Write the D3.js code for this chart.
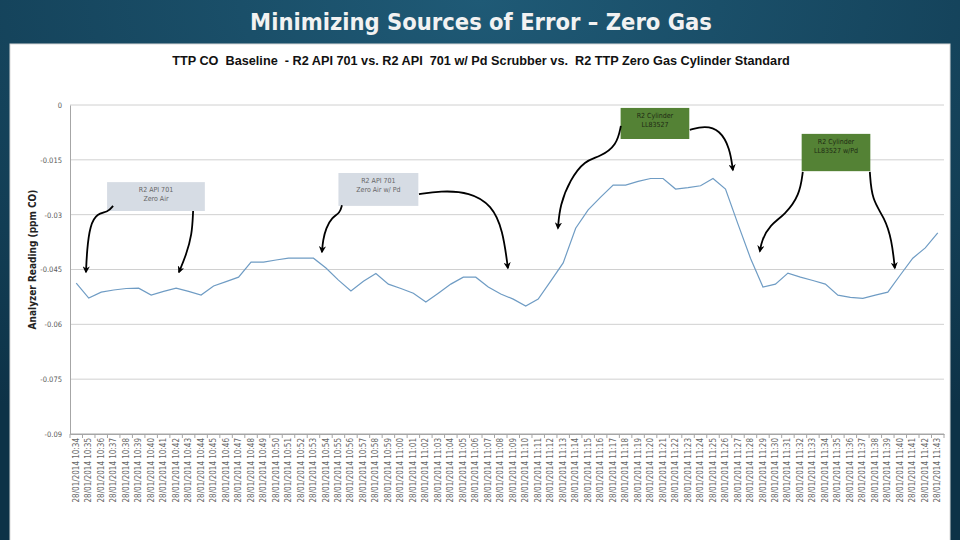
<!DOCTYPE html>
<html>
<head>
<meta charset="utf-8">
<script src="https://cdn.jsdelivr.net/npm/d3@7"></script>
<style>
  html, body { margin: 0; padding: 0; background: #154660; }
  svg text { font-family: "Liberation Sans Narrow", "DejaVu Sans Condensed", "Liberation Sans", sans-serif; }
</style>
</head>
<body>
<div id="chart"></div>
<script>
const times = [];
for (let m = 34; m <= 103; m++) {
    const h = m < 60 ? 10 : 11;
    const mm = m < 60 ? m : m - 60;
    times.push("28/01/2014 " + h + ":" + String(mm).padStart(2, "0"));
}
const readings = [
    -0.0487, -0.0528, -0.0512, -0.0506, -0.0502, -0.0501, -0.0520, -0.0510, -0.0501, -0.0510,
    -0.0520, -0.0495, -0.0483, -0.0471, -0.0430, -0.0430, -0.0424, -0.0419, -0.0419, -0.0419,
    -0.0446, -0.0479, -0.0509, -0.0482, -0.0461, -0.0490, -0.0502, -0.0515, -0.0539, -0.0515,
    -0.0490, -0.0471, -0.0471, -0.0498, -0.0517, -0.0531, -0.0550, -0.0531, -0.0482, -0.0432,
    -0.0337, -0.0287, -0.0252, -0.0219, -0.0219, -0.0209, -0.0201, -0.0201, -0.0230, -0.0226,
    -0.0221, -0.0201, -0.0230, -0.0326, -0.0419, -0.0498, -0.0490, -0.0460, -0.0471, -0.0480,
    -0.0490, -0.0520, -0.0526, -0.0529, -0.0520, -0.0512, -0.0465, -0.0419, -0.0391, -0.0350
];
const yTicks = [0, -0.015, -0.03, -0.045, -0.06, -0.075, -0.09];
const yTickLabels = ["0", "-0.015", "-0.03", "-0.045", "-0.06", "-0.075", "-0.09"];

// callout boxes in (category index, reading) units
const callouts = [
    { i0: 2.47, i1: 10.3, v0: -0.0211, v1: -0.0290, lines: ["R2 API 701", "Zero Air"], fill: "#d6dce4", ink: "#666" },
    { i0: 21.0, i1: 27.4, v0: -0.0186, v1: -0.0276, lines: ["R2 API 701", "Zero Air w/ Pd"], fill: "#d6dce4", ink: "#666" },
    { i0: 43.6, i1: 49.1, v0: -0.0008, v1: -0.0093, lines: ["R2 Cylinder", "LL83527"], fill: "#548235", ink: "#1e2a14" },
    { i0: 58.1, i1: 63.6, v0: -0.0079, v1: -0.0181, lines: ["R2 Cylinder", "LL83527 w/Pd"], fill: "#548235", ink: "#1e2a14" }
];
const arrows = [
    [[2.95, -0.0276], [2.55, -0.0293], [1.67, -0.0296], [1.10, -0.0329], [0.86, -0.0397], [0.78, -0.0457]],
    [[9.36, -0.0290], [9.27, -0.0356], [8.79, -0.0411], [8.23, -0.0457]],
    [[21.28, -0.0274], [21.12, -0.0296], [20.48, -0.0307], [20.0, -0.0337], [19.76, -0.0370], [19.68, -0.0402]],
    [[27.45, -0.0244], [29.13, -0.0235], [31.53, -0.0238], [33.29, -0.0274], [34.17, -0.0342], [34.57, -0.0446]],
    [[43.62, -0.0057], [43.3, -0.0110], [41.94, -0.0142], [40.74, -0.0151], [39.54, -0.0205], [38.74, -0.0274], [38.58, -0.0337]],
    [[49.14, -0.0068], [50.34, -0.0057], [51.55, -0.0068], [52.35, -0.0118], [52.59, -0.0178]],
    [[58.19, -0.0183], [57.95, -0.0246], [56.75, -0.0301], [55.55, -0.0328], [54.91, -0.0370], [54.75, -0.0400]],
    [[63.56, -0.0183], [63.72, -0.0260], [64.76, -0.0309], [65.32, -0.0370], [65.56, -0.0446]]
];

const width = 960, height = 540;
const plot = { left: 70, right: 944, top: 105, bottom: 434 };

const svg = d3.select("#chart").append("svg")
    .attr("width", width)
    .attr("height", height);

const defs = svg.append("defs");
const grad = defs.append("radialGradient").attr("id", "bg")
    .attr("cx", "50%").attr("cy", "0%").attr("r", "90%");
grad.append("stop").attr("offset", "0%").attr("stop-color", "#1f5a76");
grad.append("stop").attr("offset", "100%").attr("stop-color", "#0d3247");
defs.append("marker")
    .attr("id", "head")
    .attr("viewBox", "0 -5 10 10")
    .attr("refX", 8)
    .attr("refY", 0)
    .attr("markerWidth", 4)
    .attr("markerHeight", 4)
    .attr("orient", "auto")
    .append("path")
    .attr("d", "M0,-5L10,0L0,5L3,0Z")
    .attr("fill", "#000");

svg.append("rect").attr("width", width).attr("height", height).attr("fill", "url(#bg)");

svg.append("text")
    .attr("x", 481).attr("y", 30)
    .attr("text-anchor", "middle")
    .attr("fill", "#f2f2f2")
    .style("font-size", "23.5px")
    .style("font-weight", "bold")
    .text("Minimizing Sources of Error – Zero Gas");

svg.append("rect")
    .attr("x", 10).attr("y", 44)
    .attr("width", 940).attr("height", 500)
    .attr("fill", "#fff")
    .attr("stroke", "#d9d9d9");

svg.append("text")
    .attr("x", 481).attr("y", 65)
    .attr("text-anchor", "middle")
    .attr("fill", "#111")
    .style("font-size", "12.7px")
    .style("font-weight", "bold")
    .style("font-family", "'Liberation Sans', sans-serif")
    .style("white-space", "pre")
    .text("TTP CO  Baseline  - R2 API 701 vs. R2 API  701 w/ Pd Scrubber vs.  R2 TTP Zero Gas Cylinder Standard");

const x = d3.scaleBand()
    .domain(d3.range(times.length))
    .range([plot.left, plot.right])
    .padding(0);
const xc = i => plot.left + (i + 0.5) * x.step();
const y = d3.scaleLinear()
    .domain([-0.09, 0])
    .range([plot.bottom, plot.top]);

// gridlines
svg.append("g")
    .selectAll("line")
    .data(yTicks)
    .join("line")
    .attr("x1", plot.left).attr("x2", plot.right)
    .attr("y1", d => y(d)).attr("y2", d => y(d))
    .attr("stroke", d => d === -0.09 ? "#a6a6a6" : "#d0d0d0")
    .attr("stroke-width", 1);

// y axis
const yAxis = svg.append("g")
    .attr("transform", `translate(${plot.left},0)`)
    .call(d3.axisLeft(y).tickValues(yTicks).tickSize(0).tickPadding(8)
        .tickFormat((d, i) => yTickLabels[i]));
yAxis.select(".domain").attr("stroke", "#a6a6a6");
yAxis.selectAll("text").attr("fill", "#595959").style("font-size", "7.5px");

svg.append("text")
    .attr("transform", `translate(36,${(plot.top + plot.bottom) / 2 - 10}) rotate(-90)`)
    .attr("text-anchor", "middle")
    .attr("fill", "#222")
    .style("font-size", "10px")
    .style("font-weight", "bold")
    .text("Analyzer Reading (ppm CO)");

// x axis
const xAxis = svg.append("g")
    .attr("transform", `translate(0,${plot.bottom})`)
    .call(d3.axisBottom(x).tickSize(0).tickPadding(4).tickFormat(i => times[i]));
xAxis.select(".domain").attr("stroke", "#a6a6a6");
xAxis.selectAll("text")
    .attr("transform", "rotate(-90)")
    .attr("text-anchor", "end")
    .attr("dx", "-4")
    .attr("dy", "0.32em")
    .attr("y", 0)
    .attr("fill", "#666")
    .style("font-size", "8px");
svg.append("g")
    .selectAll("line")
    .data(d3.range(times.length + 1))
    .join("line")
    .attr("x1", i => plot.left + i * x.step())
    .attr("x2", i => plot.left + i * x.step())
    .attr("y1", plot.bottom).attr("y2", plot.bottom + 4)
    .attr("stroke", "#a6a6a6");

// series
svg.append("path")
    .datum(readings)
    .attr("fill", "none")
    .attr("stroke", "#6f9cc4")
    .attr("stroke-width", 1.2)
    .attr("d", d3.line().x((d, i) => xc(i)).y(d => y(d)));

// callouts
const boxes = svg.append("g").selectAll("g")
    .data(callouts)
    .join("g");
boxes.append("rect")
    .attr("x", d => xc(d.i0))
    .attr("y", d => y(d.v0))
    .attr("width", d => xc(d.i1) - xc(d.i0))
    .attr("height", d => y(d.v1) - y(d.v0))
    .attr("fill", d => d.fill);
boxes.each(function(d) {
    const cx = (xc(d.i0) + xc(d.i1)) / 2;
    const top = y(d.v0);
    d3.select(this).selectAll("text")
        .data(d.lines)
        .join("text")
        .attr("x", cx)
        .attr("y", (t, k) => top + 10 + k * 9)
        .attr("text-anchor", "middle")
        .attr("fill", d.ink)
        .style("font-size", "7px")
        .text(t => t);
});

const curve = d3.line().x(p => xc(p[0])).y(p => y(p[1])).curve(d3.curveBasis);
svg.append("g").selectAll("path")
    .data(arrows)
    .join("path")
    .attr("fill", "none")
    .attr("stroke", "#000")
    .attr("stroke-width", 1.8)
    .attr("marker-end", "url(#head)")
    .attr("d", curve);
</script>
</body>
</html>
